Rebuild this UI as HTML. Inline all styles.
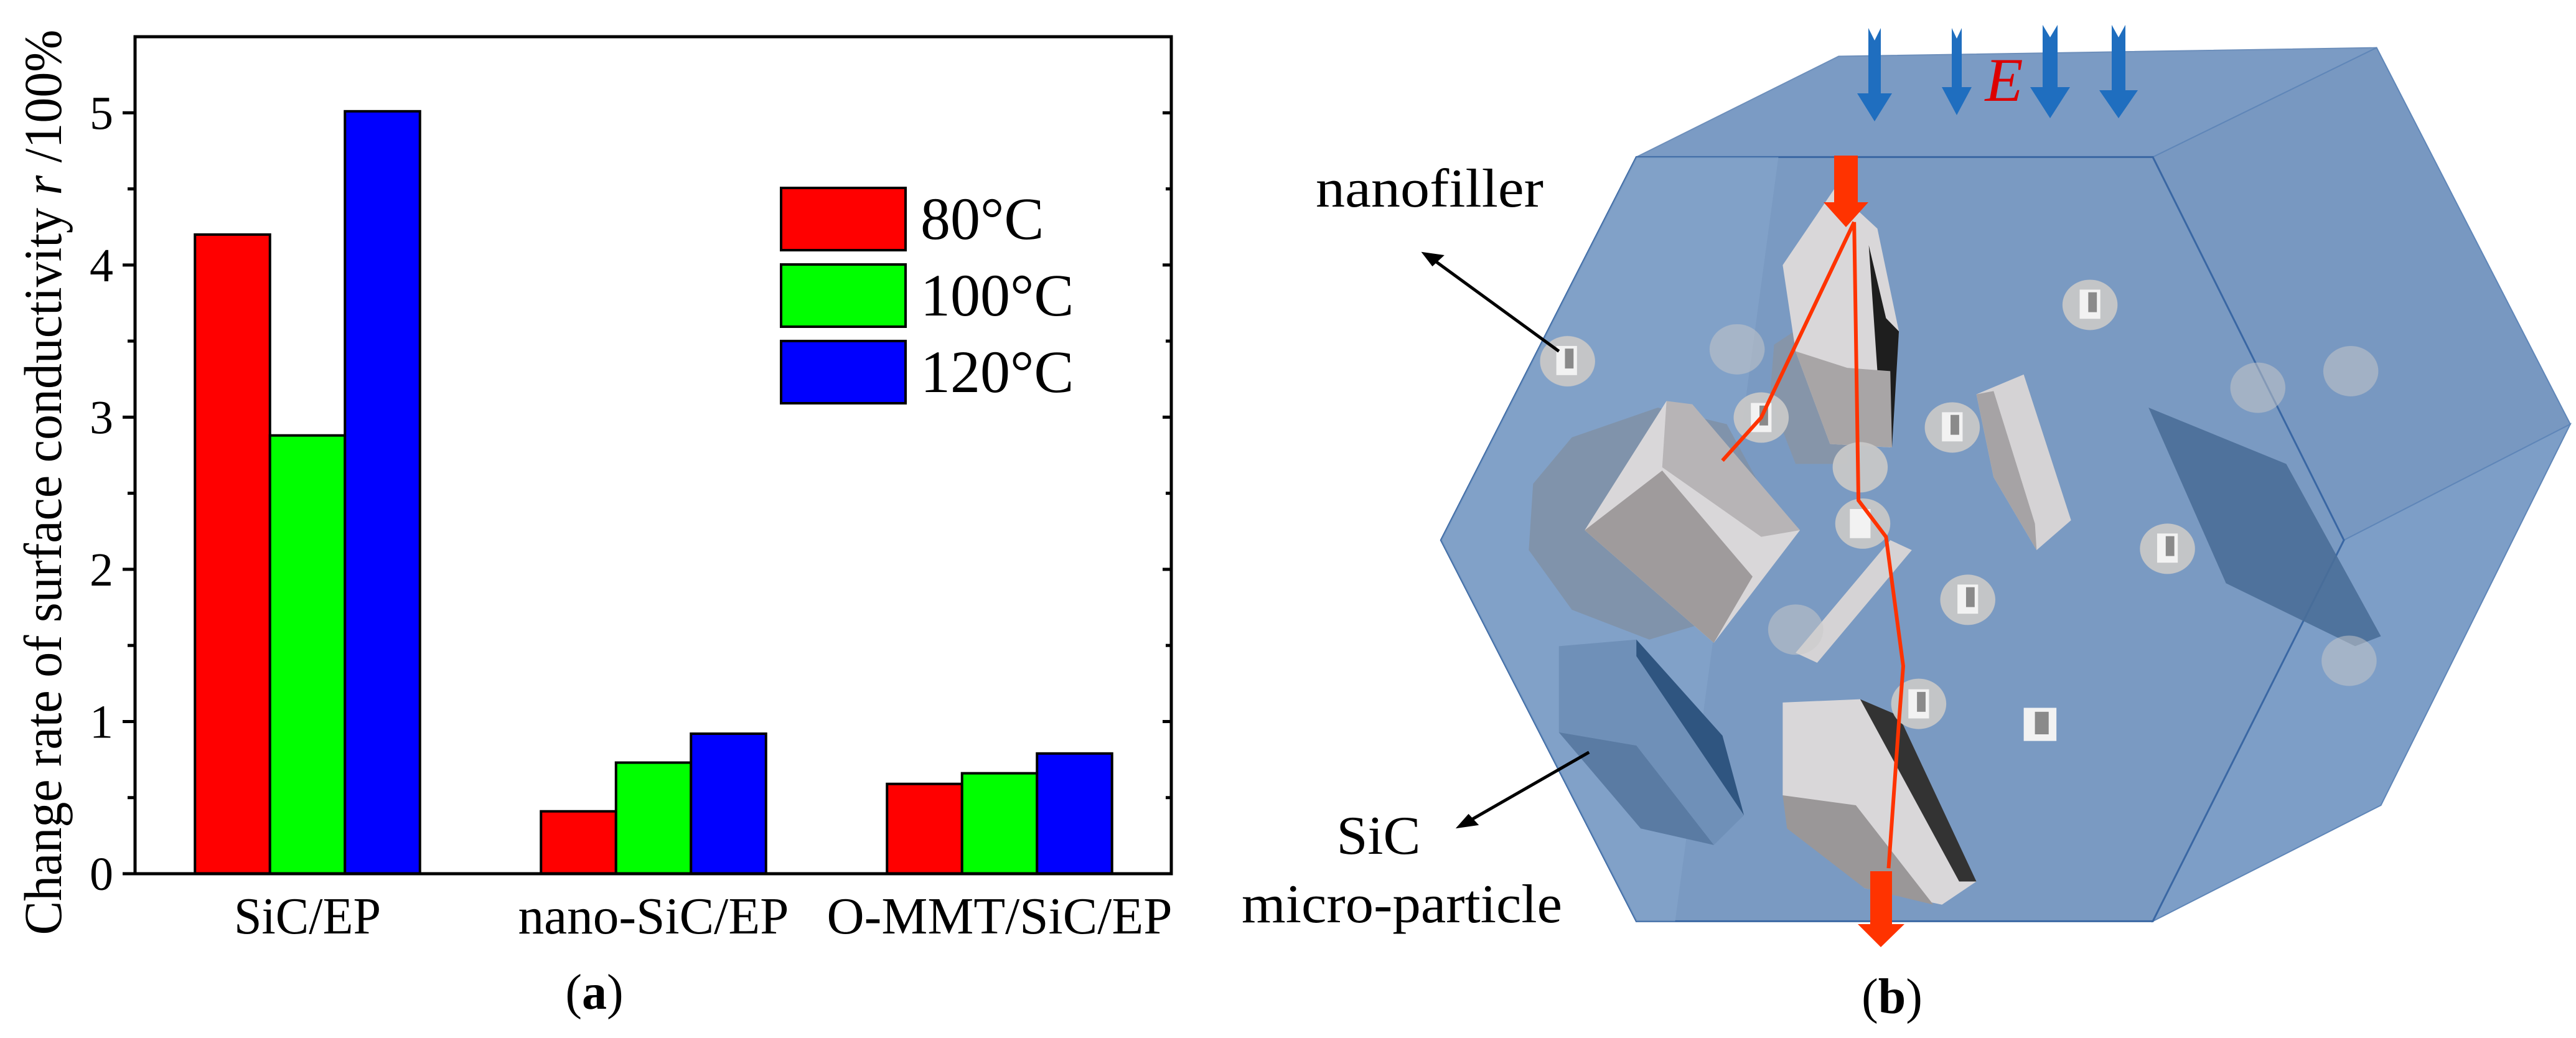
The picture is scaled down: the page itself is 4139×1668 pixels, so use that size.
<!DOCTYPE html>
<html><head><meta charset="utf-8"><style>
html,body{margin:0;padding:0;background:#fff;}
svg{display:block;font-family:"Liberation Serif",serif;}
svg text{font-family:"Liberation Serif",serif;}
</style></head><body>
<svg id="fig" width="4139" height="1668" viewBox="0 0 4139 1668" xmlns="http://www.w3.org/2000/svg" font-family="Liberation Serif, serif">
<g id="chart"></g>

<g>
 <g transform="translate(2000,0) scale(1.383,1.065)">
  <polygon points="455,237 690,85 1315,72 1055,237" fill="#7b9bc4" stroke="#6d8fbb" stroke-width="2" vector-effect="non-scaling-stroke"/>
  <polygon points="1055,237 1315,72 1540,640 1277,815" fill="#7898c1" stroke="#5f86b8" stroke-width="2" vector-effect="non-scaling-stroke"/>
  <polygon points="1277,815 1540,640 1320,1215 1055,1390" fill="#7d9ec7" stroke="#5f86b8" stroke-width="2" vector-effect="non-scaling-stroke"/>
  <polygon points="455,237 1055,237 1277,815 1055,1390 455,1390 228,815" fill="#7a9ac2" stroke="#3a67a3" stroke-width="3" vector-effect="non-scaling-stroke"/>
  <polygon points="455,237 620,237 500,1390 455,1390 228,815" fill="#86a6cc" opacity="0.6"/>
  <polygon points="380,660 480,615 560,640 610,760 560,930 470,965 380,920 330,830 335,730" fill="#8090a6" opacity="0.85"/>
  <polygon points="365,975 455,965 580,1230 545,1275 460,1250 365,1105" fill="#6f90b8"/>
  <polygon points="455,965 555,1110 580,1230 455,990" fill="#2f5580"/>
  <polygon points="365,1105 455,1125 545,1275 460,1250" fill="#5a7ba3"/>
  <polygon points="1050,615 1210,700 1320,960 1290,975 1140,880" fill="#4a6e98" opacity="0.9"/>
  <polygon points="615,520 650,490 700,560 700,700 640,700 610,600" fill="#8a93a3" opacity="0.8"/>
  <polygon points="625,400 685,285 735,345 760,500 750,675 680,670 640,530" fill="#d9d7d9"/>
  <polygon points="725,370 745,480 760,500 752,675 735,560" fill="#1e1e1e"/>
  <polygon points="640,530 700,555 750,560 752,675 680,670" fill="#a8a5a6"/>
  <polygon points="395,800 490,605 520,620 645,800 545,970" fill="#d9d7d9"/>
  <polygon points="395,800 485,710 590,870 545,970" fill="#9f9b9c"/>
  <polygon points="490,605 520,610 645,800 600,810 485,705" fill="#b7b4b6"/>
  <polygon points="625,1060 715,1055 850,1330 810,1365 720,1340 625,1200" fill="#d9d7d9"/>
  <polygon points="715,1055 760,1080 850,1330 830,1330" fill="#333"/>
  <polygon points="625,1200 710,1215 800,1365 720,1340 630,1250" fill="#9a9798"/>
  <polygon points="640,985 750,815 775,830 665,1000" fill="#d5d3d5"/>
  <polygon points="850,595 905,565 960,785 920,830 870,720" fill="#d5d3d5"/>
  <polygon points="850,595 870,590 918,790 920,830 870,720" fill="#a6a3a5"/>
  <g fill="#c8c8c8" opacity="0.95">
   <ellipse cx="375" cy="545" rx="32" ry="38"/><ellipse cx="572" cy="527" rx="32" ry="38" opacity="0.55"/>
   <ellipse cx="600" cy="630" rx="32" ry="38"/><ellipse cx="715" cy="705" rx="32" ry="38"/>
   <ellipse cx="718" cy="790" rx="32" ry="38"/><ellipse cx="822" cy="645" rx="32" ry="38"/>
   <ellipse cx="982" cy="460" rx="32" ry="38"/><ellipse cx="1072" cy="828" rx="32" ry="38"/>
   <ellipse cx="840" cy="905" rx="32" ry="38"/><ellipse cx="783" cy="1062" rx="32" ry="38"/>
   <ellipse cx="1285" cy="560" rx="32" ry="38" opacity="0.55"/><ellipse cx="1177" cy="585" rx="32" ry="38" opacity="0.55"/>
   <ellipse cx="1283" cy="997" rx="32" ry="38" opacity="0.55"/><ellipse cx="640" cy="950" rx="32" ry="38" opacity="0.55"/>
  </g>
  <g fill="#f2f2f2">
   <rect x="362" y="522" width="24" height="44"/><rect x="588" y="608" width="24" height="44"/>
   <rect x="810" y="622" width="24" height="44"/><rect x="970" y="437" width="24" height="44"/>
   <rect x="1060" y="805" width="24" height="44"/><rect x="828" y="882" width="24" height="44"/>
   <rect x="771" y="1040" width="24" height="44"/><rect x="905" y="1068" width="38" height="50"/>
   <rect x="703" y="768" width="24" height="44"/>
  </g>
  <g fill="#8a8a8a">
   <rect x="372" y="526" width="10" height="30"/><rect x="598" y="612" width="10" height="30"/>
   <rect x="820" y="626" width="10" height="30"/><rect x="980" y="441" width="10" height="30"/>
   <rect x="1070" y="809" width="10" height="30"/><rect x="838" y="886" width="10" height="30"/>
   <rect x="781" y="1044" width="10" height="30"/><rect x="918" y="1074" width="16" height="34"/>
  </g>
  <polyline points="708,335 600,630 555,695" fill="none" stroke="#ff3300" stroke-width="6" vector-effect="non-scaling-stroke"/>
  <polyline points="708,335 713,755 745,810 765,1005 760,1090 748,1310" fill="none" stroke="#ff3300" stroke-width="6" vector-effect="non-scaling-stroke"/>
  <line x1="365" y1="530" x2="215" y2="388" stroke="#000" stroke-width="5" vector-effect="non-scaling-stroke"/>
  <polygon points="205,380 232,385 218,402" fill="#000"/>
  <line x1="400" y1="1135" x2="255" y2="1243" stroke="#000" stroke-width="5" vector-effect="non-scaling-stroke"/>
  <polygon points="245,1250 260,1228 272,1245" fill="#000"/>
 </g>
 <g fill="#1f6ebf">
  <polygon points="3002,45 3012,65 3022,45 3022,150 3040,150 3012,195 2984,150 3002,150"/>
  <polygon points="3136,45 3144,62 3152,45 3152,140 3168,140 3144,185 3120,140 3136,140"/>
  <polygon points="3282,40 3294,60 3306,40 3306,140 3326,140 3294,190 3262,140 3282,140"/>
  <polygon points="3393,40 3404,60 3415,40 3415,145 3435,145 3404,190 3373,145 3393,145"/>
 </g>
 <text x="3220" y="162" font-size="100" font-style="italic" fill="#dd0000" text-anchor="middle">E</text>
 <polygon points="2947,250 2985,250 2985,325 3002,325 2966,365 2930,325 2947,325" fill="#ff3300"/>
 <polygon points="3005,1400 3040,1400 3040,1485 3060,1485 3022,1522 2985,1485 3005,1485" fill="#ff3300"/>
 <text x="2114" y="332" font-size="88" textLength="366" lengthAdjust="spacingAndGlyphs">nanofiller</text>
 <text x="2215" y="1372" font-size="88" text-anchor="middle" textLength="135" lengthAdjust="spacingAndGlyphs">SiC</text>
 <text x="1995" y="1482" font-size="88" textLength="515" lengthAdjust="spacingAndGlyphs">micro-particle</text>
 <text x="3040" y="1628" font-size="80" text-anchor="middle">(<tspan font-weight="bold">b</tspan>)</text>
</g>
</svg>
<script>
const categories = ["SiC/EP", "nano-SiC/EP", "O-MMT/SiC/EP"];
const seriesNames = ["80°C", "100°C", "120°C"];
const seriesColors = ["#ff0000", "#00ff00", "#0000ff"];
const v80 = [4.20, 0.41, 0.59];
const v100 = [2.88, 0.73, 0.66];
const v120 = [5.01, 0.92, 0.79];
const yTicks = [0, 1, 2, 3, 4, 5];
const yMinor = [0.5, 1.5, 2.5, 3.5, 4.5];

const NS = "http://www.w3.org/2000/svg";
const g = document.getElementById("chart");
const L = 217, R = 1882, T = 59, B = 1404, YMAX = 5.5;
const y = v => B - (v / YMAX) * (B - T);
const groupX = i => 494 + 556 * i;
const BW = 120.5;
function mk(tag, attrs, parent) {
  const e = document.createElementNS(NS, tag);
  for (const k in attrs) e.setAttribute(k, attrs[k]);
  (parent || g).appendChild(e);
  return e;
}
const series = [v80, v100, v120];
series.forEach((vals, s) => {
  vals.forEach((v, i) => {
    const r = mk("rect", {x: groupX(i) + (s - 1.5) * BW, y: y(v), width: BW, height: B - y(v), fill: seriesColors[s], stroke: "#000", "stroke-width": 4});
    
    
  });
});
const frame = mk("rect", {x: L, y: T, width: R - L, height: B - T, fill: "none", stroke: "#000", "stroke-width": 5});


yTicks.forEach(t => {
  const l1 = mk("line", {x1: L - 20, x2: L, y1: y(t), y2: y(t), stroke: "#000", "stroke-width": 5});
  
  
  const l2 = mk("line", {x1: R - 14, x2: R, y1: y(t), y2: y(t), stroke: "#000", "stroke-width": 5});
  
  
  const tx = mk("text", {x: 182, y: y(t) + 26, "font-size": 76, "text-anchor": "end", "font-family": "Liberation Serif, serif"});
  tx.textContent = t;
  
  
});
yMinor.forEach(t => {
  const l1 = mk("line", {x1: L - 12, x2: L, y1: y(t), y2: y(t), stroke: "#000", "stroke-width": 5});
  
  
  const l2 = mk("line", {x1: R - 9, x2: R, y1: y(t), y2: y(t), stroke: "#000", "stroke-width": 5});
  
  
});
const catW = [236, 435, 555];
categories.forEach((c, i) => {
  const tx = mk("text", {x: groupX(i), y: 1500, "font-size": 84, "text-anchor": "middle", textLength: catW[i], lengthAdjust: "spacingAndGlyphs", "font-family": "Liberation Serif, serif"});
  tx.textContent = c;
  
  
});
const yt = mk("text", {x: 0, y: 0, "font-size": 86, "text-anchor": "middle", transform: "translate(98,775) rotate(-90)", textLength: 1455, lengthAdjust: "spacingAndGlyphs", "font-family": "Liberation Serif, serif"});
yt.innerHTML = 'Change rate of surface conductivity <tspan font-style="italic">r</tspan> /100%';


const legY = [302, 425, 548];
seriesNames.forEach((n, s) => {
  const r = mk("rect", {x: 1255, y: legY[s], width: 200, height: 100, fill: seriesColors[s], stroke: "#000", "stroke-width": 4});
  
  
  const tx = mk("text", {x: 1479, y: legY[s] + 82, "font-size": 96, "font-family": "Liberation Serif, serif"});
  tx.textContent = n;
  
  
});
const cap = mk("text", {x: 955, y: 1621, "font-size": 80, "text-anchor": "middle", "font-family": "Liberation Serif, serif"});
cap.innerHTML = '(<tspan font-weight="bold">a</tspan>)';


</script>
</body></html>
